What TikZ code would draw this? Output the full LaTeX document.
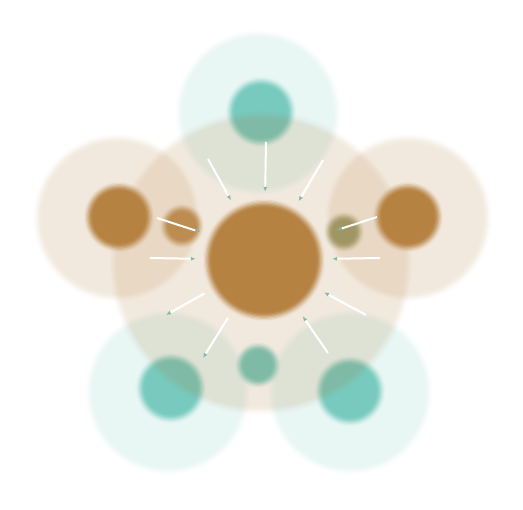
\documentclass[tikz,border=0pt]{standalone}
\usepackage{tikz}
\usetikzlibrary{arrows.meta}
\definecolor{ochre}{RGB}{182,130,66}
\definecolor{aqua}{RGB}{120,202,190}
\definecolor{moss}{RGB}{160,150,100}
\definecolor{tipgreen}{RGB}{130,185,165}

% #1 centre, #2 radius, #3 colour, #4 opacity
\newcommand{\softdisc}[4]{%
	\foreach \k in {1,...,8}{
		\pgfmathsetmacro\rr{#2+4.5-9*(\k-1)/7}
		\pgfmathsetmacro\ta{\k/8}
		\pgfmathsetmacro\tb{(\k-1)/8}
		\pgfmathsetmacro\ca{#4*(3*\ta*\ta-2*\ta*\ta*\ta)}
		\pgfmathsetmacro\cb{#4*(3*\tb*\tb-2*\tb*\tb*\tb)}
		\pgfmathsetmacro\aa{min(1,(\ca-\cb)/(1-\cb))}
		\fill[#3, fill opacity=\aa] #1 circle[radius=\rr pt];
	}}

\begin{document}
\begin{tikzpicture}[x=1pt, y=-1pt,
		blob/.style={circle, draw=none, inner sep=0pt},
		spoke/.style={draw=white, line width=2pt, -{Latex[length=5pt, width=4pt, color=tipgreen]}},
		inward/.style={spoke, shorten >=11pt},
		outward/.style={spoke, shorten <=11pt}]

	\useasboundingbox (0,0) rectangle (523,510);

	\path (261,263) coordinate (ground);
	\path (264,260) coordinate (hubc);
	\path (261,112) coordinate (top);
	\path (171,388) coordinate (sw);
	\path (350,391) coordinate (se);
	\path (119,217) coordinate (west);
	\path (408,217) coordinate (east);
	\path (258,365) coordinate (low);
	\path (182,226) coordinate (wsmall);
	\path (344,232) coordinate (esmall);

	\softdisc{(258,113)}{79}{aqua}{0.17}
	\softdisc{(168,392)}{79}{aqua}{0.17}
	\softdisc{(350,392)}{79}{aqua}{0.17}
	\softdisc{(top)}{31}{aqua}{1}
	\softdisc{(sw)}{31}{aqua}{1}
	\softdisc{(se)}{31}{aqua}{1}
	\softdisc{(low)}{19}{aqua}{1}

	\softdisc{(ground)}{148}{ochre}{0.17}
	\softdisc{(117,218)}{80}{ochre}{0.17}
	\softdisc{(408,218)}{80}{ochre}{0.17}

	\softdisc{(hubc)}{57}{ochre}{1}
	\softdisc{(west)}{31}{ochre}{1}
	\softdisc{(east)}{31}{ochre}{1}
	\softdisc{(wsmall)}{18}{ochre!92!white}{1}
	\softdisc{(esmall)}{16}{moss}{1}

	\node[blob, minimum size=114pt] (hub) at (hubc) {};

	\path (266,142) coordinate (sN);
	\path (208,159) coordinate (sNW);
	\path (323,160) coordinate (sNE);
	\path (150,258) coordinate (sW);
	\path (380,258) coordinate (sE);
	\path (166,315) coordinate (sWSW);
	\path (203,358) coordinate (sSSW);
	\path (328,353) coordinate (sSSE);
	\path (366,315) coordinate (sESE);
	\path (157,218) coordinate (wtail);
	\path (200,232) coordinate (whead);
	\path (377,217) coordinate (etail);
	\path (337,230) coordinate (ehead);

	\draw[inward] (sN) -- (hub);
	\draw[inward] (sNW) -- (hub);
	\draw[inward] (sNE) -- (hub);
	\draw[inward] (sW) -- (hub);
	\draw[inward] (sE) -- (hub);
	\draw[outward] (hub) -- (sWSW);
	\draw[outward] (hub) -- (sSSW);
	\draw[inward] (sSSE) -- (hub);
	\draw[inward] (sESE) -- (hub);
	\draw[spoke] (wtail) -- (whead);
	\draw[spoke] (etail) -- (ehead);
\end{tikzpicture}
\end{document}
